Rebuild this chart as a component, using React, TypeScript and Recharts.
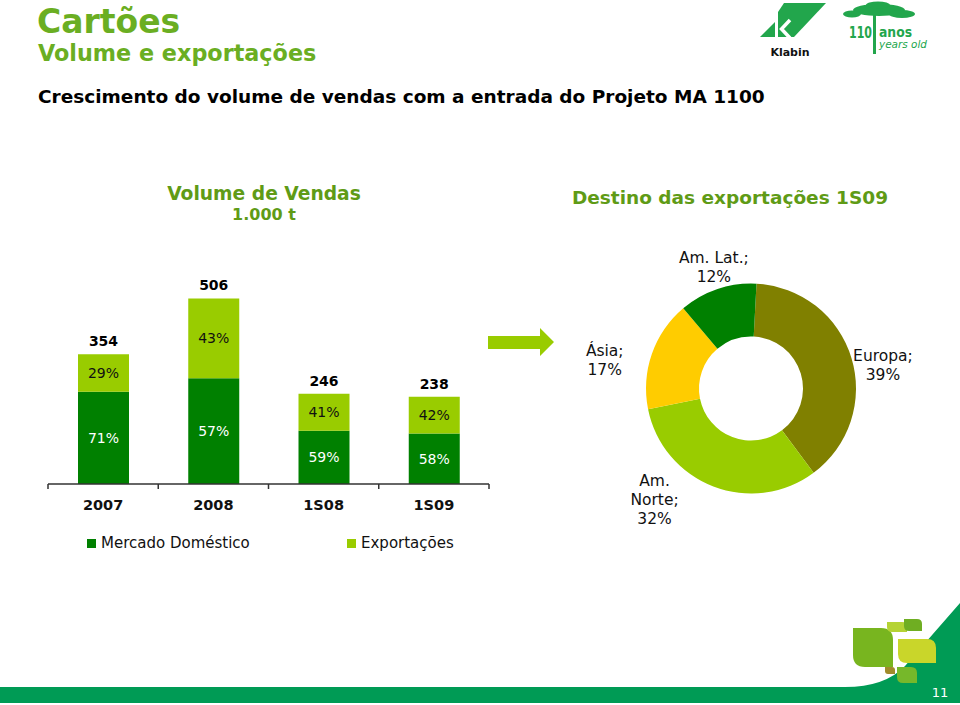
import React from "react";
import { Bar, BarChart, Cell, LabelList, Pie, PieChart, XAxis, YAxis } from "recharts";

// sales volume, 1.000 t
const periods = ["2007", "2008", "1S08", "1S09"];
const totalVolume = [354, 506, 246, 238];
const domesticShare = [71, 57, 59, 58];
const exportShare = [29, 43, 41, 42];
const seriesNames = ["Mercado Doméstico", "Exportações"];

// export destinations 1S09, %
const destinations = ["Europa", "Am. Norte", "Ásia", "Am. Lat."];
const destinationShare = [39, 32, 17, 12];

const FONT = "'DejaVu Sans', Verdana, sans-serif";
const DOMESTIC = "#008000";
const EXPORTS = "#99cc00";
const destColors = ["#808000", "#99cc00", "#ffcc00", "#008000"];
const TITLE_GREEN = "#5f9b16";
const KLABIN_GREEN = "#22a64c";

const volumeData = periods.map((period, i) => ({
  period,
  total: totalVolume[i],
  domesticPct: domesticShare[i],
  exportPct: exportShare[i],
  domestic: (totalVolume[i] * domesticShare[i]) / 100,
  exports: (totalVolume[i] * exportShare[i]) / 100,
}));

const destinationData = destinations.map((name, i) => ({ name, share: destinationShare[i] }));

// where PowerPoint put the slice labels (angle in degrees, distance from centre)
const labelSpots: Record<string, { angle: number; r: number }> = {
  Europa: { angle: 10, r: 134 },
  "Am. Norte": { angle: -131, r: 147 },
  "Ásia": { angle: 169, r: 149 },
  "Am. Lat.": { angle: 107, r: 127 },
};

const pct = (v: any) => `${v}%`;

function PeriodTick(props: any) {
  const { x, y, payload, index, visibleTicksCount } = props;
  const half = payload && payload.offset ? payload.offset : 55;
  const axisY = y - 16;
  return (
    <g>
      <line x1={x - half} x2={x - half} y1={axisY} y2={axisY + 5} stroke="#333" strokeWidth={1.5} />
      {index === visibleTicksCount - 1 && (
        <line x1={x + half} x2={x + half} y1={axisY} y2={axisY + 5} stroke="#333" strokeWidth={1.5} />
      )}
      <text x={x} y={y} dy="0.71em" textAnchor="middle" fontWeight="bold" fontSize={14.5} fill="#111" fontFamily={FONT}>
        {payload.value}
      </text>
    </g>
  );
}

function DestLabel(props: any) {
  const name = props.name ?? props.payload?.name;
  const value = props.value ?? props.payload?.share;
  const spot = labelSpots[name];
  if (!spot) return null;
  const rad = (spot.angle * Math.PI) / 180;
  const x = props.cx + spot.r * Math.cos(rad);
  const y = props.cy - spot.r * Math.sin(rad);
  const head = name.includes("Norte") ? name.split(" ").map((w: string, i: number, a: string[]) => (i === a.length - 1 ? w + ";" : w)) : [name + ";"];
  const lines = [...head, pct(value)];
  const lh = 18.7;
  const y0 = y - ((lines.length - 1) * lh) / 2;
  return (
    <text textAnchor="middle" fontSize={15.5} fill="#111" fontFamily={FONT}>
      {lines.map((l, i) => (
        <tspan key={i} x={x} y={y0 + i * lh} dy="0.35em">
          {l}
        </tspan>
      ))}
    </text>
  );
}

function leaf(x: number, y: number, w: number, h: number, r: number) {
  return `M${x} ${y} L${x + w - r} ${y} Q${x + w} ${y} ${x + w} ${y + r} L${x + w} ${y + h} L${x + r} ${y + h} Q${x} ${y + h} ${x} ${y + h - r} Z`;
}

function SlideBackground() {
  return (
    <svg width={960} height={705} style={{ position: "absolute", left: 0, top: 0 }}>
      {/* titles */}
      <text x={37} y={33} fontSize={33} fontWeight="bold" fill="#6aae22" fontFamily={FONT}>Cartões</text>
      <text x={38} y={61} fontSize={22.3} fontWeight="bold" fill="#6aae22" fontFamily={FONT}>Volume e exportações</text>
      <text x={38} y={103} fontSize={18.5} fontWeight="bold" fill="#000" fontFamily={FONT}>
        Crescimento do volume de vendas com a entrada do Projeto MA 1100
      </text>
      <text x={264} y={200} textAnchor="middle" fontSize={18.7} fontWeight="bold" fill={TITLE_GREEN} fontFamily={FONT}>Volume de Vendas</text>
      <text x={264} y={220} textAnchor="middle" fontSize={16} fontWeight="bold" fill={TITLE_GREEN} fontFamily={FONT}>1.000 t</text>
      <text x={730} y={204} textAnchor="middle" fontSize={18.5} fontWeight="bold" fill={TITLE_GREEN} fontFamily={FONT}>Destino das exportações 1S09</text>

      {/* arrow */}
      <polygon points="488,336 540,336 540,328 554,342 540,356 540,349 488,349" fill={EXPORTS} />

      {/* Klabin logo */}
      <polygon points="760,37 775,22 775,37" fill={KLABIN_GREEN} />
      <polygon points="784,3 826,3 794,37 778,37 778,12" fill={KLABIN_GREEN} />
      <polyline points="790,20 781.5,29 790,38" fill="none" stroke="#fff" strokeWidth={3.5} />
      <text x={790} y={56} textAnchor="middle" fontSize={11} fontWeight="bold" fill="#111" fontFamily={FONT}>Klabin</text>

      {/* 110 anos logo */}
      <ellipse cx={879} cy={10} rx={26} ry={6} fill={KLABIN_GREEN} />
      <ellipse cx={878} cy={5} rx={12} ry={3.5} fill={KLABIN_GREEN} />
      <ellipse cx={852} cy={14} rx={9} ry={3.5} fill={KLABIN_GREEN} />
      <ellipse cx={902} cy={14} rx={13} ry={4} fill={KLABIN_GREEN} />
      <rect x={873} y={8} width={3} height={46} fill={KLABIN_GREEN} />
      <text x={849} y={38} fontSize={15} fontWeight="bold" fill={KLABIN_GREEN} fontFamily={FONT} textLength={23} lengthAdjust="spacingAndGlyphs">110</text>
      <text x={879} y={37} fontSize={13.5} fontWeight="bold" fill={KLABIN_GREEN} fontFamily={FONT} textLength={33} lengthAdjust="spacingAndGlyphs">anos</text>
      <text x={879} y={48} fontSize={10.5} fontStyle="italic" fill={KLABIN_GREEN} fontFamily={FONT} textLength={48} lengthAdjust="spacingAndGlyphs">years old</text>

      {/* bottom band */}
      <path d="M0 687 L845 687 Q885 687 905 666 L960 603 L960 703 L0 703 Z" fill="#009b55" />
      <path d={leaf(853, 628, 40, 39, 12)} fill="#78b51f" />
      <path d={leaf(887, 622, 20, 10, 5)} fill="#b5d334" />
      <path d={leaf(904, 619, 18, 12, 5)} fill="#6fae22" />
      <path d={leaf(898, 639, 38, 24, 9)} fill="#c9d62a" />
      <path d={leaf(885, 667, 10, 7, 3)} fill="#a08b2a" />
      <path d={leaf(897, 667, 20, 16, 6)} fill="#76b82a" />
      <text x={940} y={697} textAnchor="middle" fontSize={13} fill="#fff" fontFamily={FONT}>11</text>
    </svg>
  );
}

export default function App() {
  return (
    <div style={{ position: "absolute", left: 0, top: 0, width: 960, height: 705, background: "#fff", overflow: "hidden", fontFamily: FONT }}>
      <SlideBackground />

      <div style={{ position: "absolute", left: 0, top: 0 }}>
        <BarChart width={500} height={560} data={volumeData} margin={{ top: 264, right: 11, left: 48, bottom: 46 }}>
          <XAxis
            dataKey="period"
            height={30}
            axisLine={{ stroke: "#333", strokeWidth: 1.5 }}
            tickLine={false}
            tickSize={6}
            tickMargin={10}
            tick={<PeriodTick />}
            interval={0}
          />
          <YAxis hide domain={[0, 600]} />
          <Bar dataKey="domestic" name={seriesNames[0]} stackId="v" fill={DOMESTIC} barSize={51} isAnimationActive={false}>
            <LabelList dataKey="domesticPct" position="center" formatter={pct} fill="#fff" fontSize={14} fontFamily={FONT} />
          </Bar>
          <Bar dataKey="exports" name={seriesNames[1]} stackId="v" fill={EXPORTS} barSize={51} isAnimationActive={false}>
            <LabelList dataKey="exportPct" position="center" formatter={pct} fill="#111" fontSize={14} fontFamily={FONT} />
            <LabelList dataKey="total" position="top" offset={8} fill="#000" fontSize={14} fontWeight="bold" fontFamily={FONT} />
          </Bar>
        </BarChart>
      </div>

      {/* legend */}
      {seriesNames.map((s, i) => (
        <div key={s} style={{ position: "absolute", left: i === 0 ? 87 : 347, top: 534, display: "flex", alignItems: "center", fontSize: 15, color: "#111", whiteSpace: "nowrap" }}>
          <span style={{ display: "inline-block", width: 9, height: 9, background: i === 0 ? DOMESTIC : EXPORTS, marginRight: 5 }} />
          {s}
        </div>
      ))}

      <div style={{ position: "absolute", left: 560, top: 230 }}>
        <PieChart width={380} height={310}>
          <Pie
            data={destinationData}
            dataKey="share"
            nameKey="name"
            cx={186}
            cy={153.5}
            innerRadius={52}
            outerRadius={105}
            startAngle={87}
            endAngle={-273}
            stroke="none"
            label={DestLabel}
            labelLine={false}
            isAnimationActive={false}
          >
            {destinationData.map((d, i) => (
              <Cell key={d.name} fill={destColors[i]} />
            ))}
          </Pie>
        </PieChart>
      </div>
    </div>
  );
}
